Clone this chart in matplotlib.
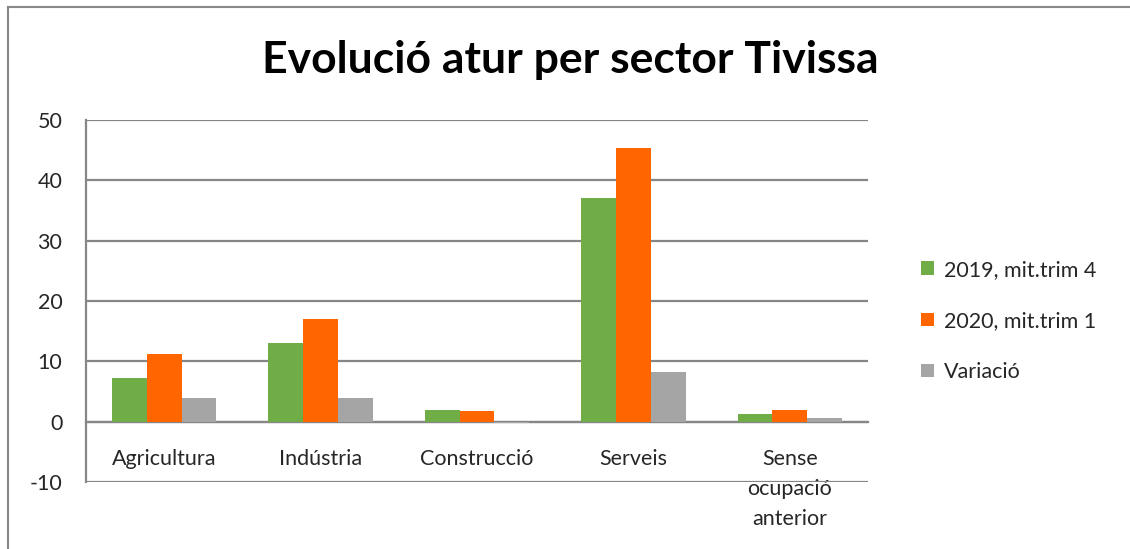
import matplotlib
matplotlib.use('Agg')
import matplotlib.pyplot as plt
import numpy as np
from matplotlib.patches import Patch
from matplotlib.lines import Line2D

plt.rcParams['font.family'] = ['Lato', 'DejaVu Sans']
plt.rcParams['axes.unicode_minus'] = False

# data
sectors = ['Agricultura', 'Indústria', 'Construcció', 'Serveis', 'Sense\nocupació\nanterior']
series_names = ['2019, mit.trim 4', '2020, mit.trim 1', 'Variació']
v2019 = [7.2, 13.0, 2.0, 37.0, 1.3]
v2020 = [11.2, 17.0, 1.7, 45.3, 1.9]
variacio = [4.0, 4.0, -0.3, 8.3, 0.6]
colors = ['#70AD47', '#FF6600', '#A5A5A5']
yticks = [-10, 0, 10, 20, 30, 40, 50]

fig = plt.figure(figsize=(11.3, 5.49), dpi=100)
ax = fig.add_axes([86/1130, 1-482/549, (868-86)/1130, (482-120)/549])

# axis line at zero (set first, it resets the ticks)
ax.spines['bottom'].set_position(('data', 0))
ax.spines['bottom'].set_color('#868686')
ax.spines['bottom'].set_linewidth(1.6)
ax.spines['left'].set_color('#868686')
ax.spines['left'].set_linewidth(1.6)
ax.spines['top'].set_visible(False)
ax.spines['right'].set_visible(False)

x = np.arange(len(sectors))
w = 1/4.5
for i, vals in enumerate([v2019, v2020, variacio]):
    ax.bar(x + (i-1)*w, vals, w, color=colors[i], label=series_names[i], zorder=3)

ax.set_xlim(-0.5, len(sectors)-0.5)
ax.set_ylim(-10, 50)
ax.set_yticks(yticks)
ax.yaxis.grid(True, color='#868686', lw=1.6, zorder=0)
ax.tick_params(axis='y', length=0, pad=17, labelsize=15.5, labelcolor='#262626')

ax.set_xticks(x)
ax.set_xticklabels(sectors, linespacing=1.62)
ax.tick_params(axis='x', length=0, pad=20, labelsize=15.5, labelcolor='#262626')

fig.text(570/1130, 1-60/549, 'Evolució atur per sector Tivissa', ha='center', va='center',
         fontsize=32, fontweight='bold', color='black')

handles = [Patch(facecolor=c, edgecolor='none') for c in colors]
fig.legend(handles, series_names, loc='center left', bbox_to_anchor=(902/1130, 1-321/549),
           frameon=False, fontsize=15.5, handlelength=0.6, handleheight=0.6,
           handletextpad=0.45, labelspacing=1.45, labelcolor='#262626')

# chart border (only top and left visible in crop)
fig.add_artist(Line2D([8/1130, 1], [1-7/549, 1-7/549], color='#888888', lw=1.5))
fig.add_artist(Line2D([8/1130, 8/1130], [0, 1-7/549], color='#888888', lw=1.5))

fig.savefig('out.png', dpi=100)
